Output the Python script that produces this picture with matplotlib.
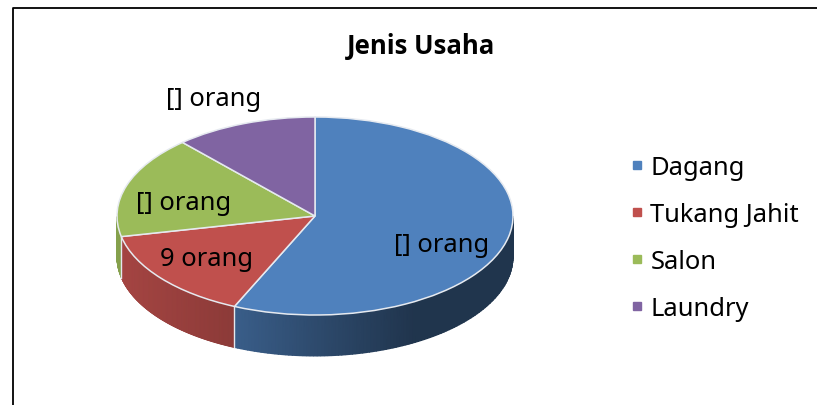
import numpy as np
import matplotlib
matplotlib.use("Agg")
import matplotlib.pyplot as plt
from matplotlib.lines import Line2D

# Data
categories = ["Dagang", "Tukang Jahit", "Salon", "Laundry"]
values = [34, 9, 10, 7]
point_labels = ["[] orang", "9 orang", "[] orang", "[] orang"]
title = "Jenis Usaha"

colors = ["#4F81BD", "#C0504D", "#9BBB59", "#8064A2"]
label_pos = [(442, 245), (207, 260), (184, 204), (214, 100)]

W, H = 817, 406
CX, CY, RX, RY = 315, 217, 198, 99
DEPTH = 41 / RY

plt.rcParams['font.family'] = ['Noto Sans', 'DejaVu Sans']

fig = plt.figure(figsize=(W / 100, H / 100), dpi=100)
ax = fig.add_axes([0, 0, 1, 1])


def shade(x):
    return np.interp(x, [-1, -0.41, 0, 0.5, 1], [.86, .73, .58, .41, .41])


# Side of the disc, gouraud mesh so that it shades smoothly from left to right
total = sum(values)
edges = 90 - np.cumsum([0] + values) * 360 / total
for i, c in enumerate(colors):
    hi, lo = edges[i], edges[i + 1]
    t = np.radians(np.linspace(hi, lo, 200))
    t = t[np.sin(t) <= 0]
    rgb = np.array(matplotlib.colors.to_rgb(c))
    if len(t) > 1:
        X = np.array([np.cos(t), np.cos(t)])
        Y = np.array([np.sin(t), np.sin(t) - DEPTH])
        C = np.clip(shade(X)[..., None] * rgb, 0, 1)
        ax.pcolormesh(X, Y, C, shading="gouraud", zorder=1)
    # light seam between two slices
    if np.sin(np.radians(lo)) < 0:
        xe, ye = np.cos(np.radians(lo)), np.sin(np.radians(lo))
        ax.plot([xe, xe], [ye, ye - DEPTH], color="#E4E8EE", lw=1, zorder=2)

wedges, _ = ax.pie(values, colors=colors, startangle=90, counterclock=False,
                   wedgeprops=dict(edgecolor="#E6EAF0", linewidth=1.1, zorder=3))

ax.set_aspect("auto")
ax.set_xlim(-CX / RX, (W - CX) / RX)
ax.set_ylim((CY - H) / RY, CY / RY)
ax.axis("off")

# Chart frame: only left and top are inside the crop
fig.add_artist(Line2D([12.5 / W, 12.5 / W, 1], [0, 1 - 8.5 / H, 1 - 8.5 / H],
                      color="black", lw=1.3))

fig.text(421 / W, 1 - 46 / H, title, fontsize=18.5, fontweight="bold",
         family=["Open Sans", "DejaVu Sans"], ha="center", va="center")

for txt, (px, py) in zip(point_labels, label_pos):
    fig.text(px / W, 1 - py / H, txt, fontsize=18.4, ha="center", va="center",
             color="black", zorder=5)

handles = [Line2D([], [], ls="none", marker="s", ms=6.2, color=c) for c in colors]
fig.legend(handles, categories, loc="center left",
           bbox_to_anchor=(629.5 / W, 1 - 239 / H), frameon=False, fontsize=18.4,
           handlelength=0.6, handletextpad=0.22, labelspacing=0.87,
           borderpad=0, borderaxespad=0)

fig.savefig("out.png", dpi=100)
